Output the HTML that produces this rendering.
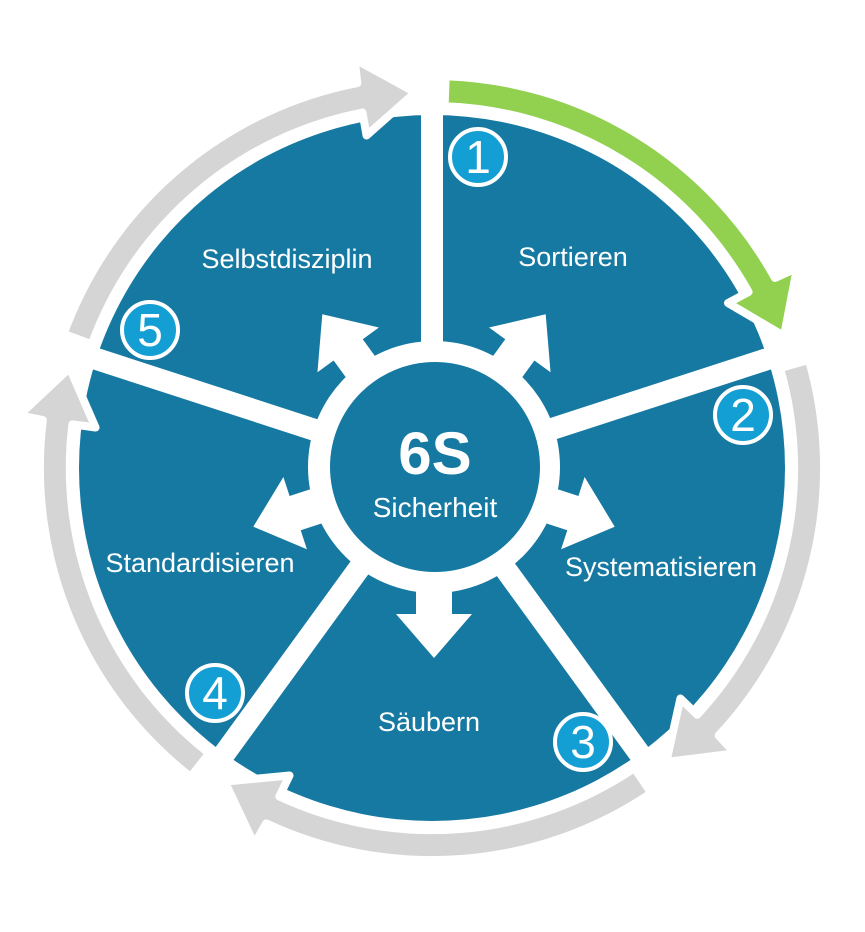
<!DOCTYPE html>
<html><head><meta charset="utf-8"><style>
html,body{margin:0;padding:0;background:#fff;width:865px;height:932px;overflow:hidden;}
svg{display:block;}
text{font-family:"Liberation Sans",Arial,sans-serif;fill:#fff;}
</style></head><body>
<svg width="865" height="932" viewBox="0 0 865 932" xmlns="http://www.w3.org/2000/svg">
<defs>
<path id="ring" d="M 445.7 76.2 A 392 392 0 0 1 775.0 278.0 L 797.0 268.0 L 784.0 336.0 L 728.0 303.0 L 748.6 292.0 A 362 362 0 0 0 444.6 106.2 Z"/>
<polygon id="carr" points="-18,-100 18,-100 18,-146 38,-146 0,-190 -38,-146 -18,-146"/>
</defs>
<rect width="865" height="932" fill="#fff"/>
<circle cx="432" cy="468" r="353" fill="#1679a2"/>
<g stroke="#fff" stroke-width="22">
<line x1="432" y1="468" x2="432" y2="100"/>
<line x1="432" y1="468" x2="432" y2="100" transform="rotate(72 432 468)"/>
<line x1="432" y1="468" x2="432" y2="100" transform="rotate(144 432 468)"/>
<line x1="432" y1="468" x2="432" y2="100" transform="rotate(216 432 468)"/>
<line x1="432" y1="468" x2="432" y2="100" transform="rotate(288 432 468)"/>
</g>
<g stroke="#fff" stroke-width="8" stroke-linejoin="round">
<use href="#ring" fill="#d5d5d5" transform="rotate(72 432 468)"/>
<use href="#ring" fill="#d5d5d5" transform="rotate(144 432 468)"/>
<use href="#ring" fill="#d5d5d5" transform="rotate(216 432 468)"/>
<use href="#ring" fill="#d5d5d5" transform="rotate(288 432 468)"/>
<use href="#ring" fill="#92d050"/>
</g>
<g fill="#fff">
<use href="#carr" transform="translate(434 468) rotate(36)"/>
<use href="#carr" transform="translate(434 468) rotate(-36)"/>
<use href="#carr" transform="translate(434 468) rotate(108)"/>
<use href="#carr" transform="translate(434 468) rotate(-108)"/>
<use href="#carr" transform="translate(434 468) rotate(180)"/>
</g>
<circle cx="434" cy="467" r="126" fill="#fff"/>
<circle cx="435" cy="467" r="105" fill="#1679a2"/>
<text x="435" y="474" font-size="60" font-weight="bold" text-anchor="middle">6S</text>
<text x="435" y="517" font-size="28" text-anchor="middle">Sicherheit</text>
<g font-size="27" text-anchor="middle">
<text x="573" y="266">Sortieren</text>
<text x="661" y="576">Systematisieren</text>
<text x="429" y="731">Säubern</text>
<text x="200" y="572">Standardisieren</text>
<text x="287" y="268">Selbstdisziplin</text>
</g>
<g fill="#139fd3" stroke="#fff" stroke-width="4">
<circle cx="478" cy="157" r="28"/>
<circle cx="743" cy="415" r="28"/>
<circle cx="583" cy="742" r="28"/>
<circle cx="215" cy="693" r="28"/>
<circle cx="150" cy="330" r="28"/>
</g>
<g font-size="46" text-anchor="middle">
<text x="478" y="173">1</text>
<text x="743" y="431">2</text>
<text x="583" y="758">3</text>
<text x="215" y="709">4</text>
<text x="150" y="346">5</text>
</g>
</svg>
</body></html>
